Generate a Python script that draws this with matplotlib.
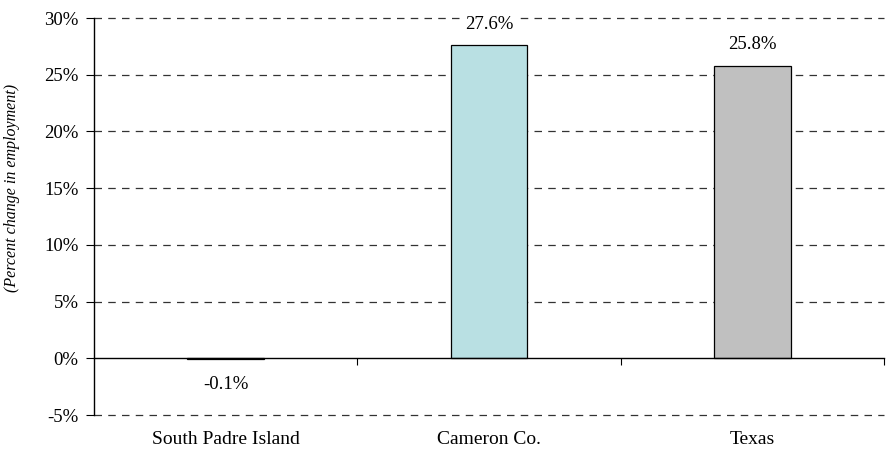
import matplotlib.pyplot as plt
import numpy as np

categories = ['South Padre Island', 'Cameron Co.', 'Texas']
values = [-0.1, 27.6, 25.8]
labels = ['-0.1%', '27.6%', '25.8%']
colors = ['#000000', '#B9E0E3', '#C0C0C0']
yticks = [-5, 0, 5, 10, 15, 20, 25, 30]

plt.rcParams['font.family'] = ['Liberation Serif', 'DejaVu Serif']

fig = plt.figure(figsize=(8.88, 4.57), dpi=100)
ax = fig.add_axes([94 / 888, 1 - 415 / 457, 790 / 888, 397 / 457])

x = np.arange(len(categories)) + 0.5
ax.bar(x, values, width=0.29, color=colors, edgecolor='black', linewidth=0.9, zorder=3)

ax.set_xlim(0, 3)
ax.set_ylim(-5, 30)
ax.set_yticks(yticks)
ax.set_yticklabels([f'{t}%' for t in yticks], fontsize=13.5)

# dashed grid lines
for t in yticks:
    if t != 0:
        ax.axhline(t, color='#333333', linestyle=(0, (6, 5)), linewidth=0.9, zorder=1, clip_on=False)

ax.spines['top'].set_visible(False)
ax.spines['right'].set_visible(False)
ax.spines['bottom'].set_position(('data', 0))
ax.spines['left'].set_linewidth(1.0)
ax.spines['bottom'].set_linewidth(1.0)
ax.spines['left'].set_zorder(4)
ax.spines['bottom'].set_zorder(4)

ax.set_xticks([1, 2, 3])
ax.set_xticklabels([])
ax.tick_params(axis='x', direction='out', length=5, width=0.8)
ax.tick_params(axis='y', direction='out', length=6, width=0.8, pad=5)

for xi, name in zip(x, categories):
    ax.annotate(name, xy=(xi, 0), xycoords=('data', 'axes fraction'),
                xytext=(0, -25), textcoords='offset pixels',
                ha='center', va='center', fontsize=14)

for xi, v, lab in zip(x, values, labels):
    off = 21 if v > 0 else -25
    ax.annotate(lab, xy=(xi, v), xytext=(0, off), textcoords='offset pixels',
                ha='center', va='center', fontsize=13.5, zorder=5,
                bbox=dict(boxstyle='square,pad=0.15', fc='white', ec='none'))

ax.set_ylabel('(Percent change in employment)', fontstyle='italic', fontsize=11.5)
ax.yaxis.set_label_coords(-94 / 790 + 20 / 790, 0.572)

fig.savefig('out.png', dpi=100)
